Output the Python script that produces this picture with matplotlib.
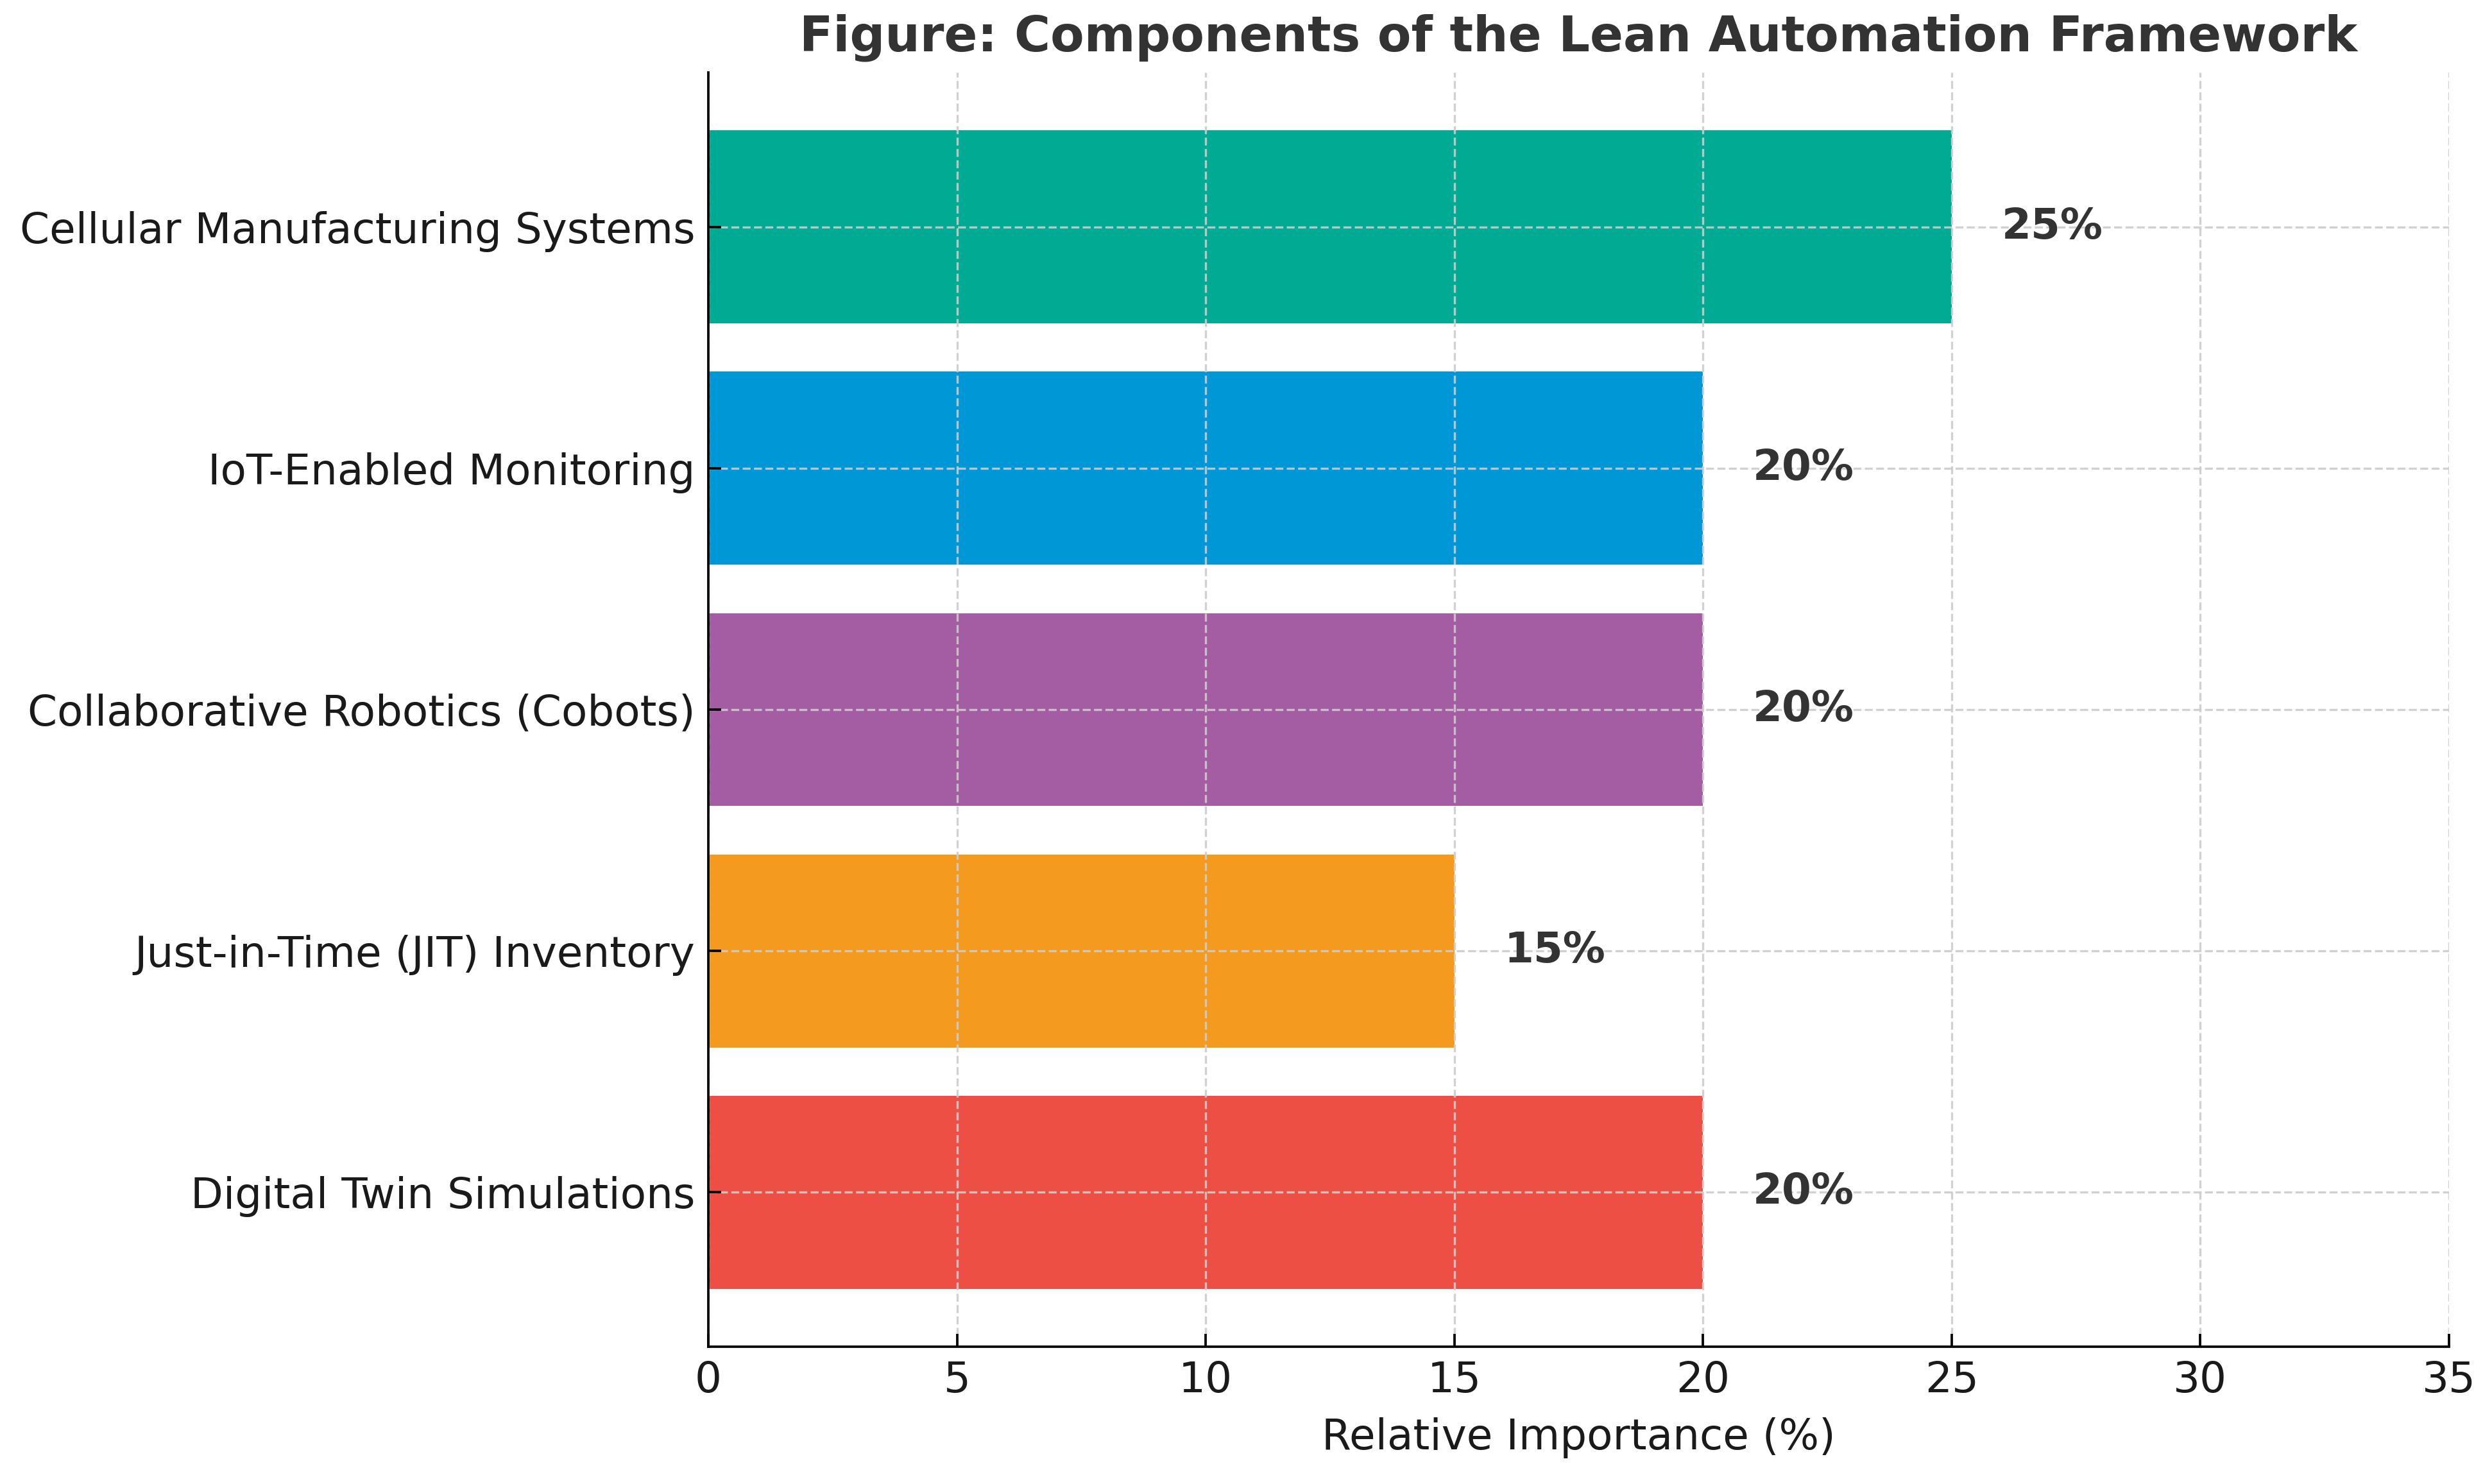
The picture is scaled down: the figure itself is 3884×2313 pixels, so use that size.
import matplotlib
matplotlib.use("Agg")
import matplotlib.pyplot as plt

categories = [
    "Digital Twin Simulations",
    "Just-in-Time (JIT) Inventory",
    "Collaborative Robotics (Cobots)",
    "IoT-Enabled Monitoring",
    "Cellular Manufacturing Systems",
]
values = [20, 15, 20, 20, 25]
colors = ["#EE4F44", "#F49A1E", "#A45DA3", "#0097D7", "#00AA93"]
xticks = [0, 5, 10, 15, 20, 25, 30, 35]

plt.rcParams['font.family'] = ['DejaVu Sans']

fs = 15.85
fig = plt.figure(figsize=(3884 / 300, 2313 / 300), dpi=300)
ax = fig.add_axes([1104 / 3884, 1 - 2099 / 2313, (3817 - 1104) / 3884, (2099 - 113) / 2313])

bars = ax.barh(categories, values, color=colors, height=0.8)
ax.set_xlim(0, 35)
ax.set_xticks(xticks)
ax.tick_params(axis='both', labelsize=fs, colors='black', labelcolor='#1a1a1a',
               direction='in', length=4.8, width=0.9, pad=5)

for b, v in zip(bars, values):
    ax.text(v + 1, b.get_y() + b.get_height() / 2, f"{v}%", va='center', ha='left',
            fontsize=fs, fontweight='bold', color='#333333')

ax.set_xlabel("Relative Importance (%)", fontsize=fs, color='#1a1a1a', labelpad=6)
ax.set_title("Figure: Components of the Lean Automation Framework", fontsize=18.4,
             fontweight='bold', color='#333333', pad=8)
ax.grid(True, linestyle='--', color='#cccccc', alpha=0.9, linewidth=0.8)
ax.spines['top'].set_visible(False)
ax.spines['right'].set_visible(False)
ax.spines['left'].set_linewidth(0.9)
ax.spines['bottom'].set_linewidth(0.9)

fig.savefig("out.png", dpi=300)
